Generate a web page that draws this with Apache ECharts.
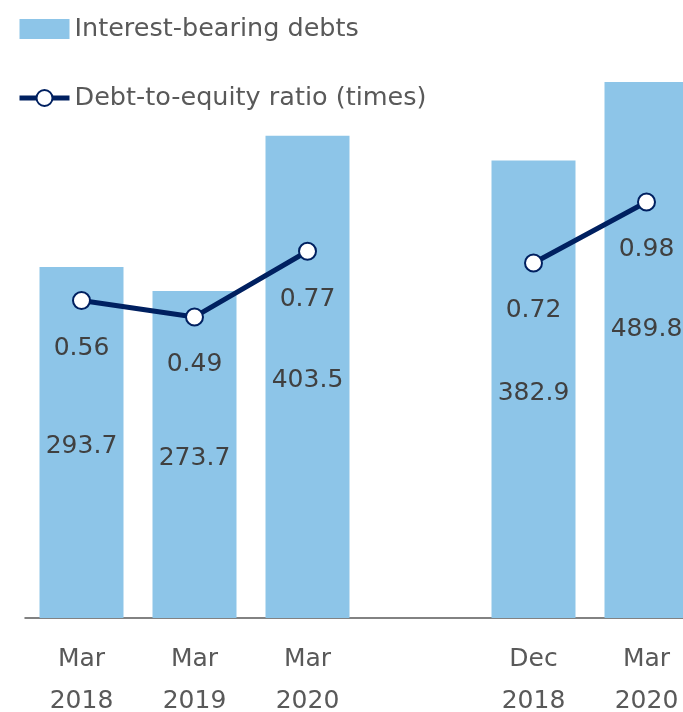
<!DOCTYPE html>
<html>
<head>
<meta charset="utf-8">
<script src="https://cdn.jsdelivr.net/npm/echarts@6/dist/echarts.min.js"></script>
<style>html,body{margin:0;padding:0;background:#fff}#c{width:683px;height:712px}</style>
</head>
<body>
<div id="c"></div>
<script>
var categories = ['Mar\n2018', 'Mar\n2019', 'Mar\n2020', '', 'Dec\n2018', 'Mar\n2020'];
var debts = [293.7, 273.7, 403.5, '-', 382.9, 489.8];
var ratio = [0.56, 0.49, 0.77, '-', 0.72, 0.98];
var debtName = 'Interest-bearing debts';
var ratioName = 'Debt-to-equity ratio (times)';

var FONT = '"DejaVu Sans", Verdana, sans-serif';
var TXT = '#404040';

var barData = debts.map(function (v, i) {
  if (i === debts.length - 1) {
    return { value: v, label: { offset: [0, -21] } };
  }
  return v;
});

var chart = echarts.init(document.getElementById('c'));
chart.setOption({
  animation: false,
  legend: {
    orient: 'vertical',
    left: 17,
    top: 16,
    padding: 0,
    itemWidth: 50,
    itemHeight: 20,
    itemGap: 43,
    textStyle: { fontFamily: FONT, fontSize: 25.5, color: '#595959' },
    data: [
      { name: debtName, icon: 'rect' },
      { name: ratioName, lineStyle: { width: 5, color: '#002060' } }
    ]
  },
  grid: { left: 25, width: 678, top: 82, bottom: 94, containLabel: false, outerBoundsMode: 'none' },
  xAxis: {
    type: 'category',
    data: categories,
    axisTick: { show: false },
    axisLine: { lineStyle: { color: '#595959', width: 1.5 } },
    axisLabel: {
      interval: 0,
      margin: 20,
      fontFamily: FONT,
      fontSize: 25,
      lineHeight: 42,
      color: '#595959'
    }
  },
  yAxis: [
    { type: 'value', min: 0, max: 448.5, show: false, splitLine: { show: false } },
    { type: 'value', min: -0.7925, max: 1.491, show: false, splitLine: { show: false } }
  ],
  series: [
    {
      name: debtName,
      type: 'bar',
      yAxisIndex: 0,
      data: barData,
      barWidth: 84,
      clip: true,
      itemStyle: { color: '#8DC5E8' },
      label: {
        show: true,
        position: 'inside',
        offset: [0, 4],
        fontFamily: FONT,
        fontSize: 25,
        color: TXT,
        formatter: function (p) { return p.value.toFixed(1); }
      }
    },
    {
      name: ratioName,
      type: 'line',
      yAxisIndex: 1,
      data: ratio,
      symbol: 'circle',
      symbolSize: 17,
      lineStyle: { color: '#002060', width: 5 },
      itemStyle: { color: '#ffffff', borderColor: '#002060', borderWidth: 2 },
      label: {
        show: true,
        position: 'bottom',
        distance: 26,
        fontFamily: FONT,
        fontSize: 25,
        color: TXT,
        formatter: function (p) { return p.value.toFixed(2); }
      },
      z: 5
    }
  ]
});
</script>
</body>
</html>
